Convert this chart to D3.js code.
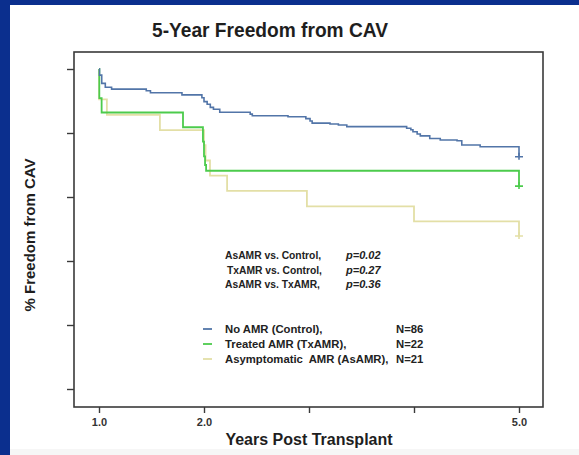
<!DOCTYPE html>
<html>
<head>
<meta charset="utf-8">
<script src="https://cdn.jsdelivr.net/npm/d3@7"></script>
<style>
  html, body { margin: 0; padding: 0; background: #ffffff; }
  svg { display: block; font-family: "Liberation Sans", Arial, sans-serif; }
  text { white-space: pre; }
</style>
</head>
<body>
<svg id="chart" width="579" height="455"></svg>
<script>
// ---------------- DATA ----------------
const chartTitle = "5-Year Freedom from CAV";
const xTitle = "Years Post Transplant";
const yTitle = "% Freedom from CAV";

const xTickValues = [1, 2, 3, 4, 5];
const xTickLabels = ["1.0", "2.0", "", "", "5.0"];
const yTickValues = [0, 0.2, 0.4, 0.6, 0.8, 1.0];
const yTickLabels = ["", "", "", "", "", ""];

// No AMR (Control)
const controlYears = [1.0, 1.005, 1.026, 1.06, 1.12, 1.45, 1.49, 1.79, 1.98, 2.0, 2.03, 2.06, 2.09, 2.15, 2.44, 2.46, 2.8, 2.97, 3.01, 3.03, 3.2, 3.28, 3.36, 3.93, 3.97, 3.99, 4.03, 4.06, 4.15, 4.25, 4.41, 4.455, 4.63, 5.0];
const controlSurv  = [1.0, 0.981, 0.955, 0.943, 0.937, 0.932, 0.926, 0.919, 0.91, 0.898, 0.89, 0.88, 0.874, 0.865, 0.859, 0.854, 0.851, 0.845, 0.8375, 0.831, 0.828, 0.825, 0.82, 0.815, 0.81, 0.804, 0.797, 0.791, 0.783, 0.778, 0.776, 0.7625, 0.757, 0.726];

// Treated AMR (TxAMR)
const treatedYears = [1.0, 1.003, 1.025, 1.80, 1.99, 2.0, 2.01, 2.02, 5.0];
const treatedSurv  = [1.0, 0.909, 0.864, 0.818, 0.773, 0.727, 0.70, 0.682, 0.634];

// Asymptomatic AMR (AsAMR)
const asympYears = [1.0, 1.001, 1.075, 1.58, 2.0, 2.015, 2.057, 2.22, 2.98, 4.0, 5.0];
const asympSurv  = [1.0, 0.905, 0.857, 0.809, 0.762, 0.714, 0.667, 0.619, 0.571, 0.524, 0.478];

const seriesNames  = ["No AMR (Control),", "Treated AMR (TxAMR),", "Asymptomatic  AMR (AsAMR),"];
const seriesN      = ["N=86", "N=22", "N=21"];
const seriesColors = ["#5275a8", "#4ccb4c", "#e3dfa6"];

const statLabels = ["AsAMR vs. Control,", "TxAMR vs. Control,", "AsAMR vs. TxAMR,"];
const statPValues = ["p=0.02", "p=0.27", "p=0.36"];

// ---------------- DRAW ----------------
const svg = d3.select("#chart");
const W = 579, H = 455;

// background frame (slide)
svg.append("rect").attr("x", 0).attr("y", 0).attr("width", W).attr("height", H).attr("fill", "#ffffff");
svg.append("rect").attr("x", 0).attr("y", 449).attr("width", W).attr("height", 6).attr("fill", "#f6f6f6");
svg.append("rect").attr("x", 0).attr("y", 0).attr("width", 10).attr("height", H).attr("fill", "#0b2f8e");
svg.append("rect").attr("x", 0).attr("y", 0).attr("width", W).attr("height", 5).attr("fill", "#0b2f8e");

const box = { left: 74, top: 52, right: 543, bottom: 407 };

const x = d3.scaleLinear().domain([1, 5]).range([99, 519]);
const y = d3.scaleLinear().domain([0, 1]).range([389, 69]);

// plot box
svg.append("rect")
  .attr("x", box.left).attr("y", box.top)
  .attr("width", box.right - box.left).attr("height", box.bottom - box.top)
  .attr("fill", "none").attr("stroke", "#3a3a3a").attr("stroke-width", 1.6);

// axes
const xAxis = d3.axisBottom(x).tickValues(xTickValues).tickSize(6).tickPadding(5)
  .tickFormat((d, i) => xTickLabels[i]);
const gx = svg.append("g").attr("transform", `translate(0,${box.bottom})`).call(xAxis);
gx.select(".domain").remove();
gx.selectAll(".tick line").attr("stroke", "#3a3a3a").attr("stroke-width", 1.4);
gx.selectAll(".tick text").attr("fill", "#333").attr("font-size", "11px").attr("font-weight", "bold");

const yAxis = d3.axisLeft(y).tickValues(yTickValues).tickSize(7)
  .tickFormat((d, i) => yTickLabels[i]);
const gy = svg.append("g").attr("transform", `translate(${box.left},0)`).call(yAxis);
gy.select(".domain").remove();
gy.selectAll(".tick line").attr("stroke", "#3a3a3a").attr("stroke-width", 1.4);

// curves
const series = [
  { t: controlYears, s: controlSurv },
  { t: treatedYears, s: treatedSurv },
  { t: asympYears,   s: asympSurv }
];
const line = d3.line().x(d => x(d[0])).y(d => y(d[1])).curve(d3.curveStepAfter);

[2, 1, 0].forEach(i => {
  const pts = series[i].t.map((t, k) => [t, series[i].s[k]]);
  svg.append("path").datum(pts)
    .attr("d", line)
    .attr("fill", "none")
    .attr("stroke", seriesColors[i])
    .attr("stroke-width", i === 0 ? 1.6 : 1.8);
  const last = pts[pts.length - 1];
  const cx = x(last[0]), cy = y(last[1]);
  svg.append("path")
    .attr("d", `M${cx - 4},${cy}H${cx + 4}M${cx},${cy - 4}V${cy + 3}`)
    .attr("stroke", seriesColors[i]).attr("stroke-width", 1.6).attr("fill", "none");
});

// title
svg.append("text")
  .attr("x", 270).attr("y", 37)
  .attr("text-anchor", "middle")
  .attr("font-size", "20px").attr("font-weight", "bold").attr("fill", "#1e1e1e")
  .attr("textLength", 236).attr("lengthAdjust", "spacingAndGlyphs")
  .text(chartTitle);

// axis titles
svg.append("text")
  .attr("x", 309).attr("y", 445)
  .attr("text-anchor", "middle")
  .attr("font-size", "16px").attr("font-weight", "bold").attr("fill", "#1e1e1e")
  .text(xTitle);

svg.append("text")
  .attr("transform", "translate(35,235) rotate(-90)")
  .attr("text-anchor", "middle")
  .attr("font-size", "15px").attr("font-weight", "bold").attr("fill", "#1e1e1e")
  .text(yTitle);

// stats
const statStartX = [225, 227, 225];
statLabels.forEach((lab, i) => {
  const yy = 259 + i * 14.5;
  svg.append("text").attr("x", statStartX[i]).attr("y", yy)
    .attr("font-size", "10.3px").attr("font-weight", "bold").attr("fill", "#222")
    .text(lab);
  svg.append("text").attr("x", 346).attr("y", yy)
    .attr("font-size", "11px").attr("font-weight", "bold").attr("font-style", "italic").attr("fill", "#222")
    .text(statPValues[i]);
});

// legend
seriesNames.forEach((name, i) => {
  const yy = 329 + i * 15;
  svg.append("line").attr("x1", 203).attr("x2", 212).attr("y1", yy).attr("y2", yy)
    .attr("stroke", seriesColors[i]).attr("stroke-width", 1.8);
  svg.append("text").attr("x", 225).attr("y", yy + 4)
    .attr("font-size", "11.3px").attr("font-weight", "bold").attr("fill", "#222")
    .text(name);
  svg.append("text").attr("x", 396).attr("y", yy + 4)
    .attr("font-size", "11.3px").attr("font-weight", "bold").attr("fill", "#222")
    .text(seriesN[i]);
});
</script>
</body>
</html>
